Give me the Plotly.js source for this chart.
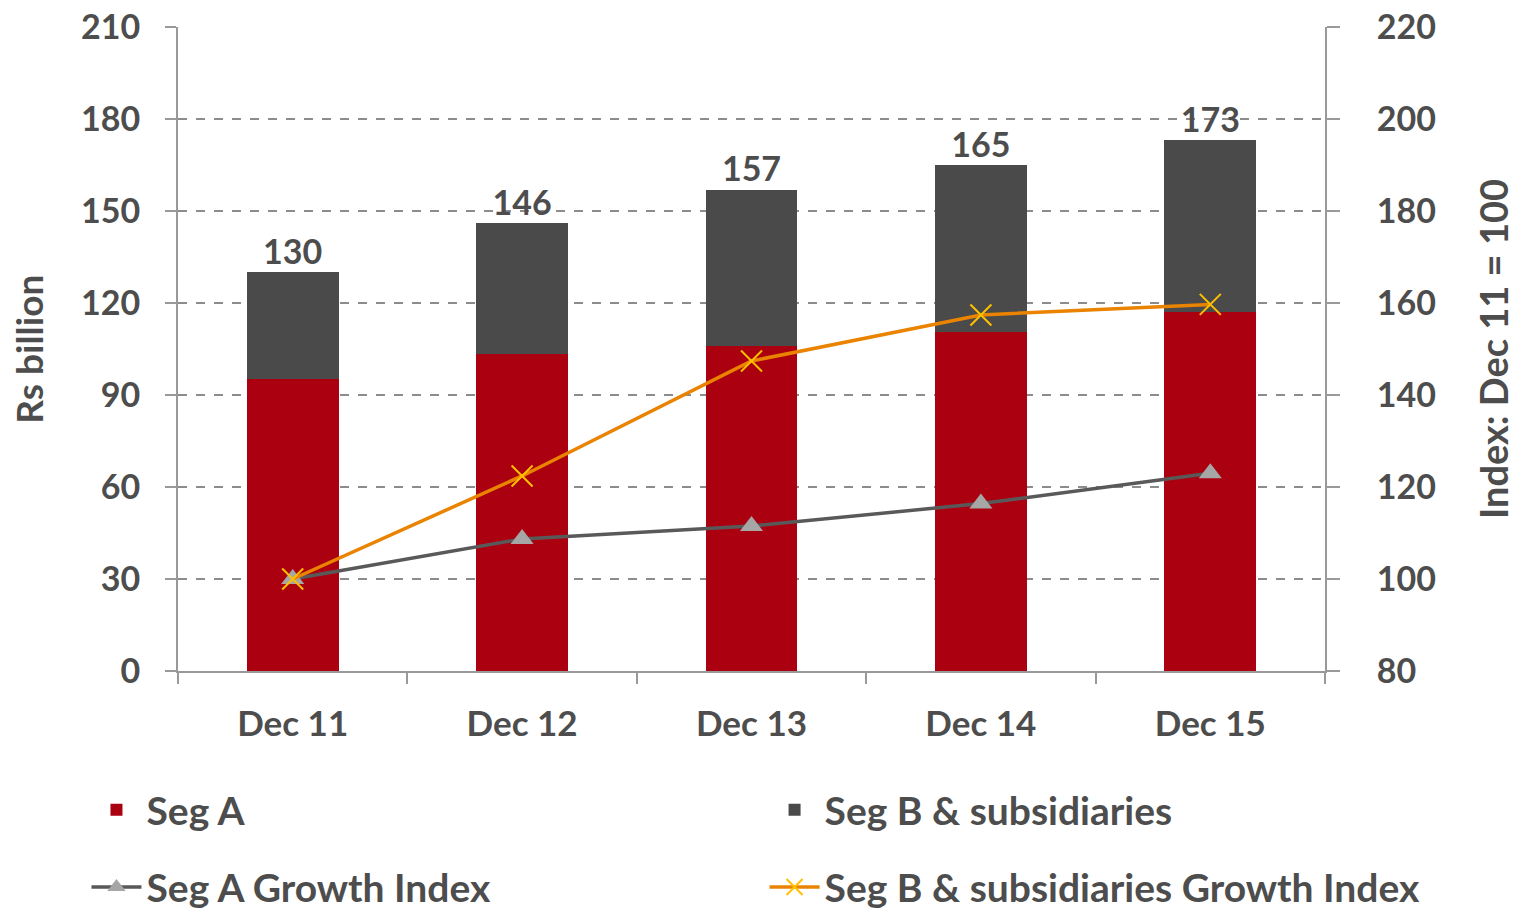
<!DOCTYPE html>
<html><head><meta charset="utf-8">
<script src="https://cdn.plot.ly/plotly-3.0.1.min.js"></script>
<style>html,body{margin:0;padding:0;background:#fff;}#chart{width:1517px;height:909px;}</style>
</head><body><div id="chart"></div>
<script>
const categories = ['Dec 11','Dec 12','Dec 13','Dec 14','Dec 15'];
const segA = [95.2, 103.4, 106.0, 110.5, 117.1];
const segB = [34.8, 42.6, 51.0, 54.5, 55.9];
const totals = [130, 146, 157, 165, 173];
const segAIndex = [100, 108.7, 111.5, 116.4, 123.0];
const segBIndex = [100, 122.4, 147.4, 157.4, 159.7];

const FONT = 'Lato, "Open Sans", sans-serif';
const TXT = '#4d4d4d';

const traces = [
  {type:'bar', name:'Seg A', x:categories, y:segA, marker:{color:'#aa0010'}, legend:'legend', hoverinfo:'skip'},
  {type:'bar', name:'Seg B & subsidiaries', x:categories, y:segB, marker:{color:'#4a4a4a'}, legend:'legend2', hoverinfo:'skip'},
  {type:'scatter', mode:'text', x:categories, y:totals, text:totals.map(String), textposition:'top center',
   textfont:{family:FONT, size:34, color:TXT, weight:700}, showlegend:false, hoverinfo:'skip'},
  {type:'scatter', mode:'lines+markers', name:'Seg A Growth Index', x:categories, y:segAIndex, yaxis:'y2',
   line:{color:'#595959', width:3.5}, marker:{symbol:'triangle-up', size:20, color:'#a6a6a6'}, legend:'legend3'},
  {type:'scatter', mode:'lines+markers', name:'Seg B & subsidiaries Growth Index', x:categories, y:segBIndex, yaxis:'y2',
   line:{color:'#e98300', width:3.5}, marker:{symbol:'x-thin', size:21, line:{color:'#ffc000', width:2}, color:'#ffc000'}, legend:'legend4'}
];

function leg(x, y) {
  return {orientation:'h', xref:'container', yref:'container', x:x, xanchor:'left', y:y, yanchor:'middle',
          font:{family:FONT, size:39, color:TXT, weight:700}, itemwidth:50, bgcolor:'rgba(0,0,0,0)'};
}

const layout = {
  width:1517, height:909,
  margin:{l:178, r:192, t:27, b:238},
  paper_bgcolor:'#ffffff', plot_bgcolor:'#ffffff',
  font:{family:FONT, color:TXT, size:34, weight:700},
  barmode:'stack', bargap:0.6,
  xaxis:{type:'category', showline:true, linecolor:'#999999', linewidth:2, ticks:'outside', tickson:'boundaries',
         ticklen:11, tickcolor:'#999999', tickwidth:2, showgrid:false, ticklabelstandoff:21,
         tickfont:{family:FONT, size:35, color:TXT, weight:700}},
  yaxis:{range:[0,210], dtick:30, tick0:0, showline:true, linecolor:'#999999', linewidth:2, ticks:'outside',
         ticklen:11, tickcolor:'#999999', tickwidth:2, showgrid:true, gridcolor:'#8c8c8c', griddash:'dash', gridwidth:1.3,
         zeroline:false, ticklabelstandoff:18, tickfont:{family:FONT, size:34, color:TXT, weight:700}},
  yaxis2:{range:[80,220], dtick:20, tick0:80, overlaying:'y', side:'right', showline:true, linecolor:'#999999', linewidth:2,
          ticks:'outside', ticklen:13, tickcolor:'#999999', tickwidth:2, showgrid:false, zeroline:false,
          ticklabelstandoff:30, tickfont:{family:FONT, size:34, color:TXT, weight:700},
          title:{text:'Index: Dec 11 = 100', font:{family:FONT, size:38, color:TXT, weight:700}, standoff:46}},
  annotations:[{text:'Rs billion', xref:'paper', yref:'paper', x:-0.131, y:0.5, xanchor:'center', yanchor:'middle',
                textangle:-90, showarrow:false, font:{family:FONT, size:37, color:TXT, weight:700}}],
  legend: leg(0.057, 0.109),
  legend2: leg(0.504, 0.109),
  legend3: leg(0.057, 0.024),
  legend4: leg(0.504, 0.024),
  showlegend:true
};

Plotly.newPlot('chart', traces, layout, {displayModeBar:false, staticPlot:true});
</script>
</body></html>
